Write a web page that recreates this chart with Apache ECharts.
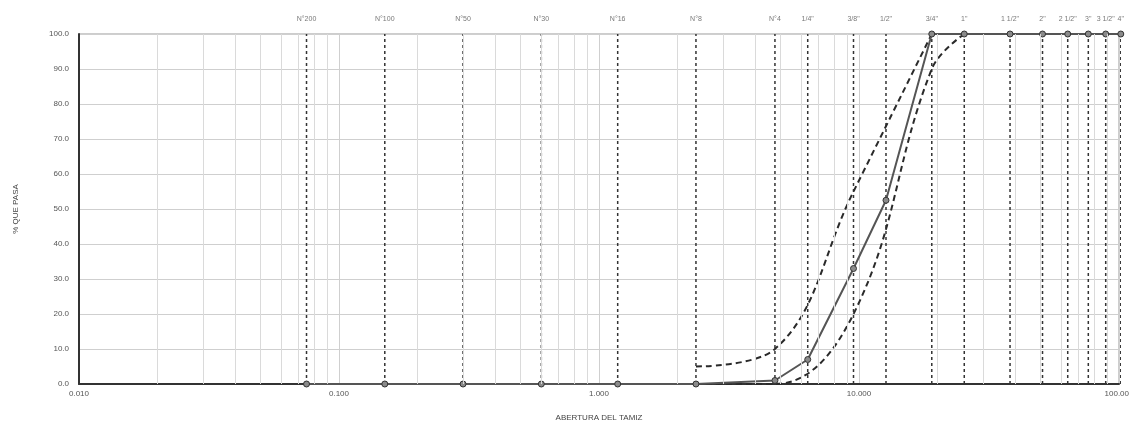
<!DOCTYPE html>
<html>
<head>
<meta charset="utf-8">
<script src="https://cdn.jsdelivr.net/npm/echarts@6/dist/echarts.min.js"></script>
<style>
  html, body { margin: 0; padding: 0; background: #fff; }
  #chart { width: 1129px; height: 423px; }
</style>
</head>
<body>
<div id="chart"></div>
<script>
// Tamices (ASTM) y abertura en mm
const sieveNames = ['N°200', 'N°100', 'N°50', 'N°30', 'N°16', 'N°8', 'N°4', '1/4"', '3/8"', '1/2"',
  '3/4"', '1"', '1 1/2"', '2"', '2 1/2"', '3"', '3 1/2"', '4"'];
const sieveOpenings = [0.075, 0.150, 0.300, 0.600, 1.180, 2.360, 4.750, 6.350, 9.525, 12.700,
  19.050, 25.400, 38.100, 50.800, 63.500, 76.200, 88.900, 101.600];

// % que pasa de la muestra
const percentPassing = [0, 0, 0, 0, 0, 0, 1.0, 7.0, 33.0, 52.5, 100, 100, 100, 100, 100, 100, 100, 100];

// Huso granulométrico: límite superior e inferior
const upperLimit = [null, null, null, null, null, 5, 10, null, 55, null, 100, null, null, null, null, null, null, null];
const lowerLimit = [null, null, null, null, null, 0, 0, null, 20, null, 90, 100, null, null, null, null, null, null];

// Ejes
const xMin = 0.01, xMax = 100;
const yMin = 0, yMax = 100, yStep = 10;

const pairs = (vals) => sieveOpenings
  .map((x, i) => [x, vals[i]])
  .filter(p => p[1] !== null);

// Líneas secundarias de la escala logarítmica (2..9 en cada década)
const minorGrid = [];
for (let d = xMin; d < xMax; d *= 10) {
  for (let k = 2; k <= 9; k++) minorGrid.push({ xAxis: +(d * k).toPrecision(3) });
}

const FONT = '"Liberation Sans", Arial, sans-serif';
const chart = echarts.init(document.getElementById('chart'), null, { renderer: 'canvas' });

// Una línea vertical discontinua por tamiz
const sieveLineSeries = sieveOpenings.map((x, i) => ({
  name: sieveNames[i], type: 'line', silent: true, clip: false,
  data: [[x, yMin], [x, yMax]],
  symbol: 'none',
  lineStyle: { color: '#333', width: 1.5, type: [3, 3] },
  z: 2
}));

chart.setOption({
  animation: false,
  backgroundColor: '#fff',
  grid: {
    left: 79, right: 10, top: 34, bottom: 39,
    outerBoundsMode: 'none', containLabel: false,
    show: true, borderColor: '#9a9a9a', borderWidth: 1
  },
  xAxis: {
    type: 'log', logBase: 10, min: xMin, max: xMax,
    name: 'ABERTURA DEL TAMIZ', nameLocation: 'middle', nameGap: 30,
    nameTextStyle: { fontFamily: FONT, fontSize: 8, color: '#444' },
    axisLine: { show: true, lineStyle: { color: '#333', width: 2 } },
    axisTick: { show: false },
    axisLabel: {
      fontFamily: FONT, fontSize: 8, color: '#555', margin: 6,
      formatter: v => Number(v).toFixed(3)
    },
    splitLine: { show: true, lineStyle: { color: '#cfcfcf', width: 1 } }
  },
  yAxis: {
    type: 'value', min: yMin, max: yMax, interval: yStep,
    name: '% QUE PASA', nameLocation: 'middle', nameGap: 59, nameRotate: 90,
    nameTextStyle: { fontFamily: FONT, fontSize: 8, color: '#444' },
    axisLine: { show: true, lineStyle: { color: '#333', width: 2 } },
    axisTick: { show: false },
    axisLabel: {
      fontFamily: FONT, fontSize: 8, color: '#555', margin: 10,
      formatter: v => Number(v).toFixed(1)
    },
    splitLine: { show: true, lineStyle: { color: '#cfcfcf', width: 1 } }
  },
  series: [
    {
      // rejilla secundaria logarítmica
      name: 'grid', type: 'line', data: [], silent: true,
      markLine: {
        silent: true, symbol: 'none', animation: false,
        label: { show: false },
        lineStyle: { color: '#dadada', width: 1, type: 'solid' },
        data: minorGrid
      }
    },
    ...sieveLineSeries,
    {
      // nombres de los tamices sobre el gráfico
      name: 'tamices', type: 'scatter', silent: true, clip: false,
      data: sieveOpenings.map(x => [x, yMax]),
      symbolSize: 0,
      label: {
        show: true, position: 'top', distance: 11,
        fontFamily: FONT, fontSize: 7, color: '#555',
        formatter: p => sieveNames[p.dataIndex]
      },
      z: 2
    },
    {
      name: 'Límite superior', type: 'line',
      data: pairs(upperLimit),
      smooth: 0.4, showSymbol: false,
      lineStyle: { color: '#2a2a2a', width: 2, type: [6, 4] },
      z: 3
    },
    {
      name: 'Límite inferior', type: 'line',
      data: pairs(lowerLimit),
      smooth: 0.4, showSymbol: false,
      lineStyle: { color: '#2a2a2a', width: 2, type: [6, 4] },
      z: 3
    },
    {
      name: 'Muestra', type: 'line',
      data: pairs(percentPassing),
      smooth: false, clip: false,
      symbol: 'circle', symbolSize: 6,
      lineStyle: { color: '#555', width: 2 },
      itemStyle: { color: '#8a8a8a', borderColor: '#333', borderWidth: 1 },
      z: 4
    }
  ]
});
</script>
</body>
</html>
